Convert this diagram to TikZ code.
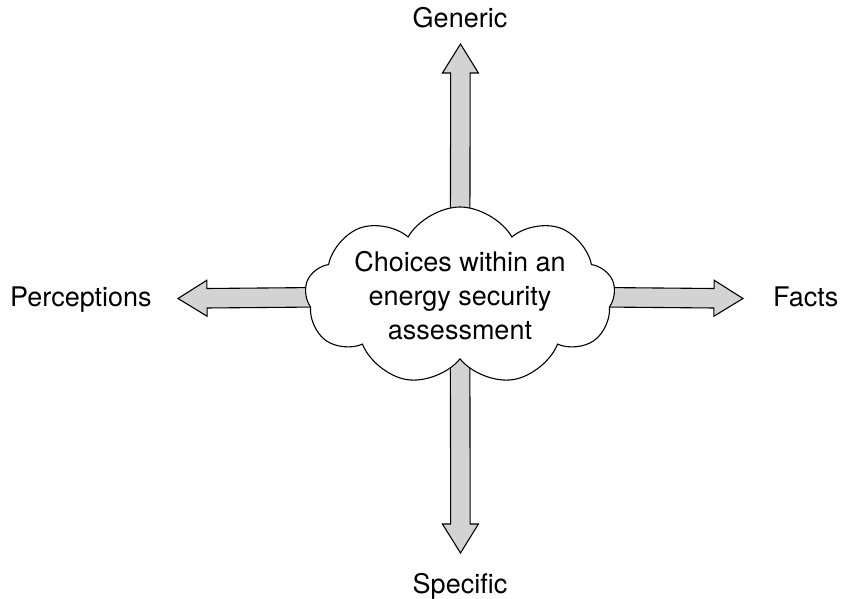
\documentclass[tikz,border=0pt]{standalone}
\usepackage{fontspec}
\setmainfont{TeX Gyre Heros}
\usetikzlibrary{shapes.symbols,calc,backgrounds}
\definecolor{arrowgray}{RGB}{211,211,211}
\tikzset{
  labeltext/.style={font=\fontsize{27}{34}\selectfont, inner sep=0pt},
  cloudbox/.style={cloud, cloud puffs=9, cloud puff arc=120, cloud ignores aspect,
    draw, fill=white, line width=1.1pt, minimum width=310pt, minimum height=178pt,
    inner sep=0pt},
  fatarrow/.style={draw=black, fill=arrowgray, line width=1.1pt, line join=miter,
    to path={
      ($(\tikztostart)!9.75pt!90:(\tikztotarget)$)
      -- ($($(\tikztotarget)!29pt!(\tikztostart)$)!9.75pt!90:(\tikztotarget)$)
      -- ($($(\tikztotarget)!29pt!(\tikztostart)$)!18pt!90:(\tikztotarget)$)
      -- (\tikztotarget)
      -- ($($(\tikztotarget)!29pt!(\tikztostart)$)!18pt!-90:(\tikztotarget)$)
      -- ($($(\tikztotarget)!29pt!(\tikztostart)$)!9.75pt!-90:(\tikztotarget)$)
      -- ($(\tikztostart)!9.75pt!-90:(\tikztotarget)$)
      -- cycle}}
}
\begin{document}
\begin{tikzpicture}[x=1pt,y=-1pt]
  \useasboundingbox (0,0) rectangle (844,599);

  % Cloud in the middle
  \node[cloudbox, shape border rotate=90] (cloud) at (460,296) {};
  \node[labeltext, align=center] (cloud text) at (cloud.center) {Choices within an\\energy security\\assessment};

  % Labels at the four ends
  \node[labeltext, anchor=base] (generic) at (460,28) {Generic};
  \node[labeltext, anchor=base] (specific) at (460,593) {Specific};
  \node[labeltext, anchor=base west] (perceptions) at (10,306) {Perceptions};
  \node[labeltext, anchor=base west] (facts) at (773,306) {Facts};

  % Arrow tips
  \coordinate (generic tip) at (460.5,44);
  \coordinate (specific tip) at (460.5,553);
  \coordinate (perceptions tip) at (178,298.5);
  \coordinate (facts tip) at (743,298.5);

  % Fat arrows behind the cloud
  \begin{scope}[on background layer]
    \draw[fatarrow] (cloud.center) to (generic tip);
    \draw[fatarrow] (cloud.center) to (specific tip);
    \draw[fatarrow] (cloud.center) to (perceptions tip);
    \draw[fatarrow] (cloud.center) to (facts tip);
  \end{scope}
\end{tikzpicture}
\end{document}
